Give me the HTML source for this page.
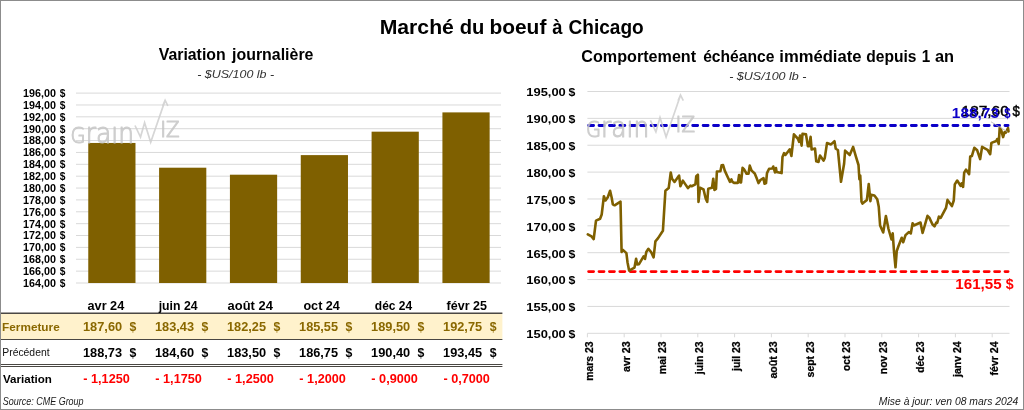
<!DOCTYPE html>
<html lang="fr"><head><meta charset="utf-8"><title>Marché du boeuf à Chicago</title>
<style>html,body{margin:0;padding:0;background:#fff;}body{width:1024px;height:410px;overflow:hidden;}svg{display:block;font-family:'Liberation Sans', sans-serif;}text{white-space:pre;}</style>
</head><body>
<svg width="1024" height="410" viewBox="0 0 1024 410">
<rect x="0" y="0" width="1024" height="410" fill="#fff"/>
<defs><clipPath id="wmclip"><rect x="60" y="125.3" width="90" height="30"/></clipPath></defs>
<text y="34.3" font-size="20.9" fill="#000" font-weight="bold" font-style="normal"><tspan x="379.68" textLength="74.24" lengthAdjust="spacingAndGlyphs">Marché</tspan> <tspan x="459.67" textLength="24.66" lengthAdjust="spacingAndGlyphs">du</tspan> <tspan x="489.42" textLength="56.94" lengthAdjust="spacingAndGlyphs">boeuf</tspan> <tspan x="552.23" textLength="10.22" lengthAdjust="spacingAndGlyphs">à</tspan> <tspan x="568.52" textLength="75.23" lengthAdjust="spacingAndGlyphs">Chicago</tspan></text>
<text y="59.6" font-size="15.8" fill="#000" font-weight="bold" font-style="normal"><tspan x="158.69" textLength="66.98" lengthAdjust="spacingAndGlyphs">Variation</tspan> <tspan x="232.05" textLength="81.4" lengthAdjust="spacingAndGlyphs">journalière</tspan></text>
<text x="197.26" y="77.8" font-size="11.3" fill="#333" font-weight="normal" font-style="italic" textLength="76.82" lengthAdjust="spacingAndGlyphs">- $US/100 lb -</text>
<text y="62.0" font-size="15.8" fill="#000" font-weight="bold" font-style="normal"><tspan x="581.34" textLength="114.76" lengthAdjust="spacingAndGlyphs">Comportement</tspan> <tspan x="703.14" textLength="71.3" lengthAdjust="spacingAndGlyphs">échéance</tspan> <tspan x="779.34" textLength="82.13" lengthAdjust="spacingAndGlyphs">immédiate</tspan> <tspan x="866.31" textLength="50.23" lengthAdjust="spacingAndGlyphs">depuis</tspan> <tspan x="921.64" textLength="8.49" lengthAdjust="spacingAndGlyphs">1</tspan> <tspan x="935.02" textLength="19.09" lengthAdjust="spacingAndGlyphs">an</tspan></text>
<text x="729.16" y="79.6" font-size="11.3" fill="#333" font-weight="normal" font-style="italic" textLength="77.32" lengthAdjust="spacingAndGlyphs">- $US/100 lb -</text>
<g stroke="#D9D9D9" stroke-width="1">
<line x1="76.0" y1="93.10" x2="501.0" y2="93.10"/>
<line x1="76.0" y1="104.97" x2="501.0" y2="104.97"/>
<line x1="76.0" y1="116.84" x2="501.0" y2="116.84"/>
<line x1="76.0" y1="128.71" x2="501.0" y2="128.71"/>
<line x1="76.0" y1="140.57" x2="501.0" y2="140.57"/>
<line x1="76.0" y1="152.44" x2="501.0" y2="152.44"/>
<line x1="76.0" y1="164.31" x2="501.0" y2="164.31"/>
<line x1="76.0" y1="176.18" x2="501.0" y2="176.18"/>
<line x1="76.0" y1="188.05" x2="501.0" y2="188.05"/>
<line x1="76.0" y1="199.92" x2="501.0" y2="199.92"/>
<line x1="76.0" y1="211.79" x2="501.0" y2="211.79"/>
<line x1="76.0" y1="223.66" x2="501.0" y2="223.66"/>
<line x1="76.0" y1="235.53" x2="501.0" y2="235.53"/>
<line x1="76.0" y1="247.39" x2="501.0" y2="247.39"/>
<line x1="76.0" y1="259.26" x2="501.0" y2="259.26"/>
<line x1="76.0" y1="271.13" x2="501.0" y2="271.13"/>
<line x1="76.0" y1="283.00" x2="501.0" y2="283.00"/>
</g>
<text y="97.0" font-size="10.1" fill="#000" font-weight="bold" font-style="normal"><tspan x="23.12" textLength="32.92" lengthAdjust="spacingAndGlyphs">196,00</tspan> <tspan x="59.67" textLength="5.68" lengthAdjust="spacingAndGlyphs">$</tspan></text>
<text y="108.87" font-size="10.1" fill="#000" font-weight="bold" font-style="normal"><tspan x="23.12" textLength="32.92" lengthAdjust="spacingAndGlyphs">194,00</tspan> <tspan x="59.67" textLength="5.68" lengthAdjust="spacingAndGlyphs">$</tspan></text>
<text y="120.74" font-size="10.1" fill="#000" font-weight="bold" font-style="normal"><tspan x="23.12" textLength="32.92" lengthAdjust="spacingAndGlyphs">192,00</tspan> <tspan x="59.67" textLength="5.68" lengthAdjust="spacingAndGlyphs">$</tspan></text>
<text y="132.61" font-size="10.1" fill="#000" font-weight="bold" font-style="normal"><tspan x="23.12" textLength="32.92" lengthAdjust="spacingAndGlyphs">190,00</tspan> <tspan x="59.67" textLength="5.68" lengthAdjust="spacingAndGlyphs">$</tspan></text>
<text y="144.47" font-size="10.1" fill="#000" font-weight="bold" font-style="normal"><tspan x="23.12" textLength="32.92" lengthAdjust="spacingAndGlyphs">188,00</tspan> <tspan x="59.67" textLength="5.68" lengthAdjust="spacingAndGlyphs">$</tspan></text>
<text y="156.34" font-size="10.1" fill="#000" font-weight="bold" font-style="normal"><tspan x="23.12" textLength="32.92" lengthAdjust="spacingAndGlyphs">186,00</tspan> <tspan x="59.67" textLength="5.68" lengthAdjust="spacingAndGlyphs">$</tspan></text>
<text y="168.21" font-size="10.1" fill="#000" font-weight="bold" font-style="normal"><tspan x="23.12" textLength="32.92" lengthAdjust="spacingAndGlyphs">184,00</tspan> <tspan x="59.67" textLength="5.68" lengthAdjust="spacingAndGlyphs">$</tspan></text>
<text y="180.08" font-size="10.1" fill="#000" font-weight="bold" font-style="normal"><tspan x="23.12" textLength="32.92" lengthAdjust="spacingAndGlyphs">182,00</tspan> <tspan x="59.67" textLength="5.68" lengthAdjust="spacingAndGlyphs">$</tspan></text>
<text y="191.95" font-size="10.1" fill="#000" font-weight="bold" font-style="normal"><tspan x="23.12" textLength="32.92" lengthAdjust="spacingAndGlyphs">180,00</tspan> <tspan x="59.67" textLength="5.68" lengthAdjust="spacingAndGlyphs">$</tspan></text>
<text y="203.82" font-size="10.1" fill="#000" font-weight="bold" font-style="normal"><tspan x="23.12" textLength="32.92" lengthAdjust="spacingAndGlyphs">178,00</tspan> <tspan x="59.67" textLength="5.68" lengthAdjust="spacingAndGlyphs">$</tspan></text>
<text y="215.69" font-size="10.1" fill="#000" font-weight="bold" font-style="normal"><tspan x="23.12" textLength="32.92" lengthAdjust="spacingAndGlyphs">176,00</tspan> <tspan x="59.67" textLength="5.68" lengthAdjust="spacingAndGlyphs">$</tspan></text>
<text y="227.56" font-size="10.1" fill="#000" font-weight="bold" font-style="normal"><tspan x="23.12" textLength="32.92" lengthAdjust="spacingAndGlyphs">174,00</tspan> <tspan x="59.67" textLength="5.68" lengthAdjust="spacingAndGlyphs">$</tspan></text>
<text y="239.43" font-size="10.1" fill="#000" font-weight="bold" font-style="normal"><tspan x="23.12" textLength="32.92" lengthAdjust="spacingAndGlyphs">172,00</tspan> <tspan x="59.67" textLength="5.68" lengthAdjust="spacingAndGlyphs">$</tspan></text>
<text y="251.29" font-size="10.1" fill="#000" font-weight="bold" font-style="normal"><tspan x="23.12" textLength="32.92" lengthAdjust="spacingAndGlyphs">170,00</tspan> <tspan x="59.67" textLength="5.68" lengthAdjust="spacingAndGlyphs">$</tspan></text>
<text y="263.16" font-size="10.1" fill="#000" font-weight="bold" font-style="normal"><tspan x="23.12" textLength="32.92" lengthAdjust="spacingAndGlyphs">168,00</tspan> <tspan x="59.67" textLength="5.68" lengthAdjust="spacingAndGlyphs">$</tspan></text>
<text y="275.03" font-size="10.1" fill="#000" font-weight="bold" font-style="normal"><tspan x="23.12" textLength="32.92" lengthAdjust="spacingAndGlyphs">166,00</tspan> <tspan x="59.67" textLength="5.68" lengthAdjust="spacingAndGlyphs">$</tspan></text>
<text y="286.9" font-size="10.1" fill="#000" font-weight="bold" font-style="normal"><tspan x="23.12" textLength="32.92" lengthAdjust="spacingAndGlyphs">164,00</tspan> <tspan x="59.67" textLength="5.68" lengthAdjust="spacingAndGlyphs">$</tspan></text>
<g fill="#7F6000">
<rect x="88.26" y="142.95" width="47.22" height="140.05"/>
<rect x="159.09" y="167.70" width="47.22" height="115.30"/>
<rect x="229.92" y="174.70" width="47.22" height="108.30"/>
<rect x="300.76" y="155.11" width="47.22" height="127.89"/>
<rect x="371.59" y="131.67" width="47.22" height="151.33"/>
<rect x="442.42" y="112.39" width="47.22" height="170.61"/>
</g>
<rect x="1" y="314" width="501.4" height="25" fill="#FFF2CC"/>
<rect x="1" y="312.5" width="501.4" height="1.5" fill="#4a4743"/>
<rect x="1" y="339" width="501.4" height="1" fill="#4a4743"/>
<rect x="1" y="364" width="501.4" height="1" fill="#4a4743"/>
<rect x="1" y="366" width="501.4" height="1" fill="#4a4743"/>
<text x="87.53" y="310.1" font-size="12.4" fill="#000" font-weight="bold" font-style="normal" textLength="36.74" lengthAdjust="spacingAndGlyphs">avr 24</text>
<text y="330.9" font-size="12.4" fill="#8A6800" font-weight="bold" font-style="normal"><tspan x="82.99" textLength="39.13" lengthAdjust="spacingAndGlyphs">187,60</tspan> <tspan x="129.54" textLength="6.84" lengthAdjust="spacingAndGlyphs">$</tspan></text>
<text y="357.1" font-size="12.4" fill="#000" font-weight="bold" font-style="normal"><tspan x="83.0" textLength="39.07" lengthAdjust="spacingAndGlyphs">188,73</tspan> <tspan x="129.54" textLength="6.84" lengthAdjust="spacingAndGlyphs">$</tspan></text>
<text x="83.3" y="382.7" font-size="12.4" fill="#FF0000" font-weight="bold" font-style="normal" textLength="46.52" lengthAdjust="spacingAndGlyphs">- 1,1250</text>
<text x="158.69" y="310.1" font-size="12.4" fill="#000" font-weight="bold" font-style="normal" textLength="38.87" lengthAdjust="spacingAndGlyphs">juin 24</text>
<text y="330.9" font-size="12.4" fill="#8A6800" font-weight="bold" font-style="normal"><tspan x="155.02" textLength="39.07" lengthAdjust="spacingAndGlyphs">183,43</tspan> <tspan x="201.56" textLength="6.84" lengthAdjust="spacingAndGlyphs">$</tspan></text>
<text y="357.1" font-size="12.4" fill="#000" font-weight="bold" font-style="normal"><tspan x="155.01" textLength="39.13" lengthAdjust="spacingAndGlyphs">184,60</tspan> <tspan x="201.56" textLength="6.84" lengthAdjust="spacingAndGlyphs">$</tspan></text>
<text x="155.32" y="382.7" font-size="12.4" fill="#FF0000" font-weight="bold" font-style="normal" textLength="46.52" lengthAdjust="spacingAndGlyphs">- 1,1750</text>
<text x="227.62" y="310.1" font-size="12.4" fill="#000" font-weight="bold" font-style="normal" textLength="45.25" lengthAdjust="spacingAndGlyphs">août 24</text>
<text y="330.9" font-size="12.4" fill="#8A6800" font-weight="bold" font-style="normal"><tspan x="227.04" textLength="38.96" lengthAdjust="spacingAndGlyphs">182,25</tspan> <tspan x="273.58" textLength="6.84" lengthAdjust="spacingAndGlyphs">$</tspan></text>
<text y="357.1" font-size="12.4" fill="#000" font-weight="bold" font-style="normal"><tspan x="227.03" textLength="39.13" lengthAdjust="spacingAndGlyphs">183,50</tspan> <tspan x="273.58" textLength="6.84" lengthAdjust="spacingAndGlyphs">$</tspan></text>
<text x="227.34" y="382.7" font-size="12.4" fill="#FF0000" font-weight="bold" font-style="normal" textLength="46.52" lengthAdjust="spacingAndGlyphs">- 1,2500</text>
<text x="303.41" y="310.1" font-size="12.4" fill="#000" font-weight="bold" font-style="normal" textLength="36.46" lengthAdjust="spacingAndGlyphs">oct 24</text>
<text y="330.9" font-size="12.4" fill="#8A6800" font-weight="bold" font-style="normal"><tspan x="299.06" textLength="38.96" lengthAdjust="spacingAndGlyphs">185,55</tspan> <tspan x="345.6" textLength="6.84" lengthAdjust="spacingAndGlyphs">$</tspan></text>
<text y="357.1" font-size="12.4" fill="#000" font-weight="bold" font-style="normal"><tspan x="299.06" textLength="38.96" lengthAdjust="spacingAndGlyphs">186,75</tspan> <tspan x="345.6" textLength="6.84" lengthAdjust="spacingAndGlyphs">$</tspan></text>
<text x="299.36" y="382.7" font-size="12.4" fill="#FF0000" font-weight="bold" font-style="normal" textLength="46.52" lengthAdjust="spacingAndGlyphs">- 1,2000</text>
<text x="374.81" y="310.1" font-size="12.4" fill="#000" font-weight="bold" font-style="normal" textLength="37.36" lengthAdjust="spacingAndGlyphs">déc 24</text>
<text y="330.9" font-size="12.4" fill="#8A6800" font-weight="bold" font-style="normal"><tspan x="371.07" textLength="39.13" lengthAdjust="spacingAndGlyphs">189,50</tspan> <tspan x="417.62" textLength="6.84" lengthAdjust="spacingAndGlyphs">$</tspan></text>
<text y="357.1" font-size="12.4" fill="#000" font-weight="bold" font-style="normal"><tspan x="371.07" textLength="39.13" lengthAdjust="spacingAndGlyphs">190,40</tspan> <tspan x="417.62" textLength="6.84" lengthAdjust="spacingAndGlyphs">$</tspan></text>
<text x="371.38" y="382.7" font-size="12.4" fill="#FF0000" font-weight="bold" font-style="normal" textLength="46.52" lengthAdjust="spacingAndGlyphs">- 0,9000</text>
<text x="446.59" y="310.1" font-size="12.4" fill="#000" font-weight="bold" font-style="normal" textLength="40.36" lengthAdjust="spacingAndGlyphs">févr 25</text>
<text y="330.9" font-size="12.4" fill="#8A6800" font-weight="bold" font-style="normal"><tspan x="443.1" textLength="38.96" lengthAdjust="spacingAndGlyphs">192,75</tspan> <tspan x="489.64" textLength="6.84" lengthAdjust="spacingAndGlyphs">$</tspan></text>
<text y="357.1" font-size="12.4" fill="#000" font-weight="bold" font-style="normal"><tspan x="443.1" textLength="38.96" lengthAdjust="spacingAndGlyphs">193,45</tspan> <tspan x="489.64" textLength="6.84" lengthAdjust="spacingAndGlyphs">$</tspan></text>
<text x="443.4" y="382.7" font-size="12.4" fill="#FF0000" font-weight="bold" font-style="normal" textLength="46.52" lengthAdjust="spacingAndGlyphs">- 0,7000</text>
<text x="2.11" y="330.9" font-size="11.6" fill="#8A6800" font-weight="bold" font-style="normal" textLength="57.59" lengthAdjust="spacingAndGlyphs">Fermeture</text>
<text x="2.25" y="356.0" font-size="10.6" fill="#111" font-weight="normal" font-style="normal" textLength="47.33" lengthAdjust="spacingAndGlyphs">Précédent</text>
<text x="3.02" y="382.7" font-size="11.6" fill="#000" font-weight="bold" font-style="normal" textLength="48.89" lengthAdjust="spacingAndGlyphs">Variation</text>
<text x="2.85" y="404.9" font-size="10" fill="#1a1a1a" font-weight="normal" font-style="italic" textLength="80.74" lengthAdjust="spacingAndGlyphs">Source: CME Group</text>
<text x="878.88" y="405.0" font-size="10.1" fill="#1a1a1a" font-weight="normal" font-style="italic" textLength="139.41" lengthAdjust="spacingAndGlyphs">Mise à jour: ven 08 mars 2024</text>
<g stroke="#D9D9D9" stroke-width="1">
<line x1="587.4" y1="91.50" x2="1009.5" y2="91.50"/>
<line x1="587.4" y1="118.37" x2="1009.5" y2="118.37"/>
<line x1="587.4" y1="145.23" x2="1009.5" y2="145.23"/>
<line x1="587.4" y1="172.10" x2="1009.5" y2="172.10"/>
<line x1="587.4" y1="198.97" x2="1009.5" y2="198.97"/>
<line x1="587.4" y1="225.83" x2="1009.5" y2="225.83"/>
<line x1="587.4" y1="252.70" x2="1009.5" y2="252.70"/>
<line x1="587.4" y1="279.57" x2="1009.5" y2="279.57"/>
<line x1="587.4" y1="306.43" x2="1009.5" y2="306.43"/>
<line x1="587.4" y1="333.30" x2="1009.5" y2="333.30"/>
<line x1="587.40" y1="333.3" x2="587.40" y2="337.3"/>
<line x1="624.20" y1="333.3" x2="624.20" y2="337.3"/>
<line x1="661.00" y1="333.3" x2="661.00" y2="337.3"/>
<line x1="697.80" y1="333.3" x2="697.80" y2="337.3"/>
<line x1="734.60" y1="333.3" x2="734.60" y2="337.3"/>
<line x1="771.40" y1="333.3" x2="771.40" y2="337.3"/>
<line x1="808.20" y1="333.3" x2="808.20" y2="337.3"/>
<line x1="845.00" y1="333.3" x2="845.00" y2="337.3"/>
<line x1="881.80" y1="333.3" x2="881.80" y2="337.3"/>
<line x1="918.60" y1="333.3" x2="918.60" y2="337.3"/>
<line x1="955.40" y1="333.3" x2="955.40" y2="337.3"/>
<line x1="992.20" y1="333.3" x2="992.20" y2="337.3"/>
</g>
<text y="96.3" font-size="11.8" fill="#000" font-weight="bold" font-style="normal"><tspan x="526.29" textLength="39.49" lengthAdjust="spacingAndGlyphs">195,00</tspan> <tspan x="568.59" textLength="6.84" lengthAdjust="spacingAndGlyphs">$</tspan></text>
<text y="123.17" font-size="11.8" fill="#000" font-weight="bold" font-style="normal"><tspan x="526.29" textLength="39.49" lengthAdjust="spacingAndGlyphs">190,00</tspan> <tspan x="568.59" textLength="6.84" lengthAdjust="spacingAndGlyphs">$</tspan></text>
<text y="150.03" font-size="11.8" fill="#000" font-weight="bold" font-style="normal"><tspan x="526.29" textLength="39.49" lengthAdjust="spacingAndGlyphs">185,00</tspan> <tspan x="568.59" textLength="6.84" lengthAdjust="spacingAndGlyphs">$</tspan></text>
<text y="176.9" font-size="11.8" fill="#000" font-weight="bold" font-style="normal"><tspan x="526.29" textLength="39.49" lengthAdjust="spacingAndGlyphs">180,00</tspan> <tspan x="568.59" textLength="6.84" lengthAdjust="spacingAndGlyphs">$</tspan></text>
<text y="203.77" font-size="11.8" fill="#000" font-weight="bold" font-style="normal"><tspan x="526.29" textLength="39.49" lengthAdjust="spacingAndGlyphs">175,00</tspan> <tspan x="568.59" textLength="6.84" lengthAdjust="spacingAndGlyphs">$</tspan></text>
<text y="230.63" font-size="11.8" fill="#000" font-weight="bold" font-style="normal"><tspan x="526.29" textLength="39.49" lengthAdjust="spacingAndGlyphs">170,00</tspan> <tspan x="568.59" textLength="6.84" lengthAdjust="spacingAndGlyphs">$</tspan></text>
<text y="257.5" font-size="11.8" fill="#000" font-weight="bold" font-style="normal"><tspan x="526.29" textLength="39.49" lengthAdjust="spacingAndGlyphs">165,00</tspan> <tspan x="568.59" textLength="6.84" lengthAdjust="spacingAndGlyphs">$</tspan></text>
<text y="284.37" font-size="11.8" fill="#000" font-weight="bold" font-style="normal"><tspan x="526.29" textLength="39.49" lengthAdjust="spacingAndGlyphs">160,00</tspan> <tspan x="568.59" textLength="6.84" lengthAdjust="spacingAndGlyphs">$</tspan></text>
<text y="311.23" font-size="11.8" fill="#000" font-weight="bold" font-style="normal"><tspan x="526.29" textLength="39.49" lengthAdjust="spacingAndGlyphs">155,00</tspan> <tspan x="568.59" textLength="6.84" lengthAdjust="spacingAndGlyphs">$</tspan></text>
<text y="338.1" font-size="11.8" fill="#000" font-weight="bold" font-style="normal"><tspan x="526.29" textLength="39.49" lengthAdjust="spacingAndGlyphs">150,00</tspan> <tspan x="568.59" textLength="6.84" lengthAdjust="spacingAndGlyphs">$</tspan></text>
<text transform="translate(592.80 341.4) rotate(-90)" font-size="10" font-weight="bold" stroke="#000" stroke-width="0.25" text-anchor="end" textLength="39.4" lengthAdjust="spacingAndGlyphs">mars 23</text>
<text transform="translate(629.60 341.4) rotate(-90)" font-size="10" font-weight="bold" stroke="#000" stroke-width="0.25" text-anchor="end" textLength="30.6" lengthAdjust="spacingAndGlyphs">avr 23</text>
<text transform="translate(666.40 341.4) rotate(-90)" font-size="10" font-weight="bold" stroke="#000" stroke-width="0.25" text-anchor="end" textLength="32.8" lengthAdjust="spacingAndGlyphs">mai 23</text>
<text transform="translate(703.20 341.4) rotate(-90)" font-size="10" font-weight="bold" stroke="#000" stroke-width="0.25" text-anchor="end" textLength="32.8" lengthAdjust="spacingAndGlyphs">juin 23</text>
<text transform="translate(740.00 341.4) rotate(-90)" font-size="10" font-weight="bold" stroke="#000" stroke-width="0.25" text-anchor="end" textLength="29.5" lengthAdjust="spacingAndGlyphs">juil 23</text>
<text transform="translate(776.80 341.4) rotate(-90)" font-size="10" font-weight="bold" stroke="#000" stroke-width="0.25" text-anchor="end" textLength="37.2" lengthAdjust="spacingAndGlyphs">août 23</text>
<text transform="translate(813.60 341.4) rotate(-90)" font-size="10" font-weight="bold" stroke="#000" stroke-width="0.25" text-anchor="end" textLength="36.0" lengthAdjust="spacingAndGlyphs">sept 23</text>
<text transform="translate(850.40 341.4) rotate(-90)" font-size="10" font-weight="bold" stroke="#000" stroke-width="0.25" text-anchor="end" textLength="29.5" lengthAdjust="spacingAndGlyphs">oct 23</text>
<text transform="translate(887.20 341.4) rotate(-90)" font-size="10" font-weight="bold" stroke="#000" stroke-width="0.25" text-anchor="end" textLength="32.8" lengthAdjust="spacingAndGlyphs">nov 23</text>
<text transform="translate(924.00 341.4) rotate(-90)" font-size="10" font-weight="bold" stroke="#000" stroke-width="0.25" text-anchor="end" textLength="31.3" lengthAdjust="spacingAndGlyphs">déc 23</text>
<text transform="translate(960.80 341.4) rotate(-90)" font-size="10" font-weight="bold" stroke="#000" stroke-width="0.25" text-anchor="end" textLength="35.6" lengthAdjust="spacingAndGlyphs">janv 24</text>
<text transform="translate(997.60 341.4) rotate(-90)" font-size="10" font-weight="bold" stroke="#000" stroke-width="0.25" text-anchor="end" textLength="34.0" lengthAdjust="spacingAndGlyphs">févr 24</text>
<text y="116.0" font-size="14.4" fill="#000" font-weight="normal" font-style="normal" stroke="#000" stroke-width="0.45"><tspan x="961.63" textLength="47.07" lengthAdjust="spacingAndGlyphs">187,60</tspan> <tspan x="1012.46" textLength="7.36" lengthAdjust="spacingAndGlyphs">$</tspan></text>
<text y="118.3" font-size="13.9" fill="#0C00C8" font-weight="bold" font-style="normal"><tspan x="951.83" textLength="47.23" lengthAdjust="spacingAndGlyphs">188,73</tspan> <tspan x="1004.25" textLength="6.31" lengthAdjust="spacingAndGlyphs">$</tspan></text>
<line x1="588.6" y1="125.5" x2="1008.1" y2="125.5" stroke="#0C00C8" stroke-width="2.8" stroke-linecap="round" stroke-dasharray="5 5.41"/>
<line x1="588.6" y1="271.55" x2="1008.1" y2="271.55" stroke="#FF0000" stroke-width="2.8" stroke-linecap="round" stroke-dasharray="5 5.41"/>
<text y="289.0" font-size="13.9" fill="#FF0000" font-weight="bold" font-style="normal"><tspan x="955.29" textLength="46.38" lengthAdjust="spacingAndGlyphs">161,55</tspan> <tspan x="1005.81" textLength="7.89" lengthAdjust="spacingAndGlyphs">$</tspan></text>
<polyline points="587.8,234.3 591.5,236.4 593.7,239.1 596,220.6 600.1,218.8 601.7,214.5 603.9,196.2 605.5,200.5 607.8,197.3 610.1,190.8 611.7,197.8 612.8,204.3 614.6,205.3 620.5,201.6 621.6,252 622.9,249.9 626.4,253.1 627.5,262.2 629.1,270.6 634.5,267.6 636.1,258.8 637.2,264.4 639,264.2 643.6,256.3 645,259 646.3,252 648.4,248.8 651.1,252 653.6,257.4 655.4,241.3 658.1,238.1 662.9,230.8 665.4,190.8 668.7,188.1 670.75,172.5 672,178.75 674.5,181.9 679.1,175.6 680.4,186.25 682.9,180.6 685.4,184.4 687.9,188.1 690.4,185.6 691.6,186.25 695.4,184.4 696.25,176.25 697.9,174.75 698.5,201.9 700,187.75 703.5,189.4 705.75,198.75 707.25,201.9 708.25,188.75 712,187.75 713.25,178.75 714.5,190 716,189 716.9,171.5 720.4,171.25 721.6,165.25 723.1,165 724.75,170.6 727.9,177.5 730,181.9 731.4,179.4 732.5,181.9 734.1,182.9 737.9,182.9 739.1,175 740.4,182.5 741,182.5 742.6,167.75 744.1,169.4 746.6,173.75 748.5,173.75 749.75,165.6 751.6,170.6 754.75,173.5 756.6,178.1 758.5,183.1 760.4,180 763.5,178.1 764.5,183.75 766,183.1 767,173.1 769.1,168.75 772.25,168.5 773.25,166.5 775,172.5 776,168.1 776.6,171.9 781.6,173.1 782.5,156.9 784.1,153.1 785.4,155 789.75,149.4 791.4,156 793.9,134.4 797.9,138.75 799.1,141.9 800,135.6 801.6,145.6 802.5,133.75 806,134.4 807.9,146.25 809.1,146.25 810.6,136.9 811.6,149.4 815,148.5 816.25,161.25 818.5,161.9 820,155.6 823.5,160.6 824.75,158.1 827,143.1 831,144.4 834.5,141.25 835.75,148.75 837.9,150 841,181.75 844.1,163.75 845.1,150.6 849.75,155 853.1,146.9 856,156.9 858.5,165 859.4,179.25 860.25,175.5 861.5,201.75 862.5,203.6 866.9,199.9 868.75,184 870.4,201.1 871.25,194.9 874.4,195.5 877.25,199.25 878.75,206.75 880.1,225.5 883.2,232.5 885.9,216 888.5,229 891.5,239.5 892.7,233.4 894.1,252.7 895.5,267.3 896.75,251 898.5,246 901.7,237.8 903.25,242.2 905.5,235.1 909,232 910.8,233.4 912.6,223.2 913.8,225.5 920.5,222.5 922.6,233 927.5,215.8 929.3,217.6 932.4,224.25 934.5,226.4 936.3,222.5 937.2,222.8 938.9,216.7 940.7,217.9 946,207.9 947.5,199.9 951.9,206.1 953.75,200.5 954.8,184.4 957.2,180.5 960.6,185.9 961.6,183.4 963.1,186.9 964.2,172.7 966,169.6 969.1,174.2 970,160 970.2,156.6 971.85,156.1 974.3,147.8 977.2,150.3 980.15,159.1 982.1,146.9 987.5,149.8 990.2,154.2 991.4,142.9 996.3,141 997.2,139 998.7,143.9 999.7,127.8 1001.1,129.8 1003.1,137.1 1004.6,132.2 1005.8,132.7 1008,128 1008.5,131.5" fill="none" stroke="#7F6000" stroke-width="2.6" stroke-linejoin="round" stroke-linecap="round"/>
<line x1="991" y1="121.8" x2="1007.5" y2="131.8" stroke="#b0b0b0" stroke-width="0.8"/>
<g transform="translate(0 0)" opacity="0.85" fill="#c6c6c6" stroke="#c6c6c6" stroke-width="1.15" stroke-linejoin="round">
<text clip-path="url(#wmclip)" x="70.6" y="142.6" textLength="63.4" lengthAdjust="spacingAndGlyphs" font-family="'DejaVu Sans Light', 'DejaVu Sans', sans-serif" font-weight="200"><tspan font-size="21.8">G</tspan><tspan font-size="28">rain</tspan></text>
<path d="M135 125.5 L140.5 137.1 L144.6 122.7 L150.7 142.3 L165.1 100.4 M162.7 105.9 L165.1 100.2 L167.9 105.9" fill="none" stroke="#cfcfcf" stroke-width="1.7" stroke-linejoin="miter"/>
<text x="160.2" y="136.8" font-size="20.4" textLength="19.4" lengthAdjust="spacingAndGlyphs" font-family="'DejaVu Sans Light', 'DejaVu Sans', sans-serif" font-weight="200">IZ</text>
</g>
<g transform="translate(515.4 -5.2)" opacity="0.85" fill="#c6c6c6" stroke="#c6c6c6" stroke-width="1.15" stroke-linejoin="round">
<text clip-path="url(#wmclip)" x="70.6" y="142.6" textLength="63.4" lengthAdjust="spacingAndGlyphs" font-family="'DejaVu Sans Light', 'DejaVu Sans', sans-serif" font-weight="200"><tspan font-size="21.8">G</tspan><tspan font-size="28">rain</tspan></text>
<path d="M135 125.5 L140.5 137.1 L144.6 122.7 L150.7 142.3 L165.1 100.4 M162.7 105.9 L165.1 100.2 L167.9 105.9" fill="none" stroke="#cfcfcf" stroke-width="1.7" stroke-linejoin="miter"/>
<text x="160.2" y="136.8" font-size="20.4" textLength="19.4" lengthAdjust="spacingAndGlyphs" font-family="'DejaVu Sans Light', 'DejaVu Sans', sans-serif" font-weight="200">IZ</text>
</g>
<rect x="0.5" y="0.5" width="1023" height="409" fill="none" stroke="#8c8c8c" stroke-width="1"/>
</svg>
</body></html>
